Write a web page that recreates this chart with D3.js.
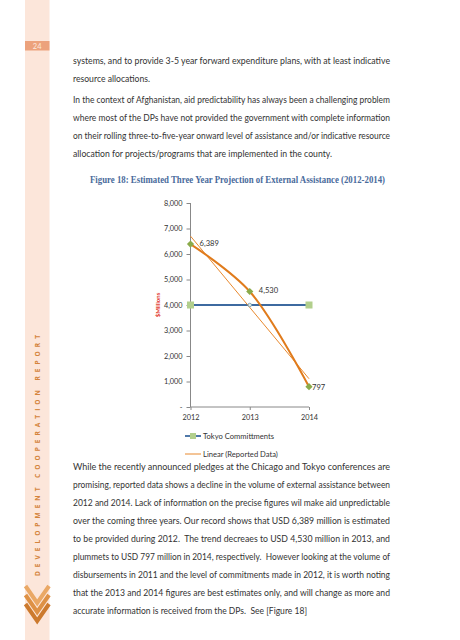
<!DOCTYPE html>
<html><head><meta charset="utf-8">
<script src="https://cdn.jsdelivr.net/npm/d3@7"></script>
<style>html,body{margin:0;padding:0;background:#fff;}svg{display:block;}</style>
</head><body>
<svg id="page" width="460" height="640"></svg>
<script>
// ---------- data ----------
const years = [2012, 2013, 2014];
const reportedData = [6389, 4530, 797];
const tokyoCommitments = [4000, 4000, 4000];
const trendYears = [2012, 2014];
const trendValues = [6701, 1109]; // Linear (Reported Data) endpoints
const yTicks = [0, 1000, 2000, 3000, 4000, 5000, 6000, 7000, 8000];
const yTickLabels = ["-", "1,000", "2,000", "3,000", "4,000", "5,000", "6,000", "7,000", "8,000"];
const legendLabels = ["Tokyo Committments", "Linear (Reported Data)"];
const titleText = "Figure 18: Estimated Three Year Projection of External Assistance (2012-2014)";
const yAxisTitle = "$Millions";
const pageNumber = "24";
const sideText = "DEVELOPMENT COOPERATION REPORT";
const para1 = [
  ["systems, and to provide 3-5 year forward expenditure plans, with at least indicative", true],
  ["resource allocations.", false, 77]
];
const para2 = [
  ["In the context of Afghanistan, aid predictability has always been a challenging problem", true],
  ["where most of the DPs have not provided the government with complete information", true],
  ["on their rolling three-to-five-year onward level of assistance and/or indicative resource", true],
  ["allocation for projects/programs that are implemented in the county.", false, 259]
];
const para3 = [
  ["While the recently announced pledges at the Chicago and Tokyo conferences are", true],
  ["promising, reported data shows a decline in the volume of external assistance between", true],
  ["2012 and 2014. Lack of information on the precise figures wil make aid unpredictable", true],
  ["over the coming three years. Our record shows that USD 6,389 million is estimated", true],
  ["to be provided during 2012.  The trend decreaes to USD 4,530 million in 2013, and", true],
  ["plummets to USD 797 million in 2014, respectively.  However looking at the volume of", true],
  ["disbursements in 2011 and the level of commitments made in 2012, it is worth noting", true],
  ["that the 2013 and 2014 figures are best estimates only, and will change as more and", true],
  ["accurate information is received from the DPs.  See [Figure 18]", false, 234]
];

// ---------- page decoration ----------
const svg = d3.select("#page");
svg.append("rect").attr("x", 25).attr("y", 0).attr("width", 24.5).attr("height", 640).attr("fill", "#fce6da");
svg.append("rect").attr("x", 25).attr("y", 41).attr("width", 24.5).attr("height", 9.5).attr("fill", "#eca27c");
svg.append("text").attr("x", 37.2).attr("y", 48.8).attr("text-anchor", "middle")
  .attr("font-family", "Lato, sans-serif").attr("font-size", 7.5).attr("fill", "#fde9de").text(pageNumber);

svg.append("text")
  .attr("transform", "translate(39.8,576) rotate(-90)")
  .attr("font-family", "'Open Sans', sans-serif").attr("font-weight", "bold").attr("font-size", 6.6)
  .attr("fill", "#d4843c").attr("textLength", 241).attr("lengthAdjust", "spacing").text(sideText);

const chevColors = ["#eaa865", "#de9145", "#cc7a2e"];
[586, 595, 604].forEach((t, i) => {
  svg.append("path").attr("d", `M25.5,${t} L37.2,${t + 17} L49,${t}`)
    .attr("fill", "none").attr("stroke", chevColors[i]).attr("stroke-width", 4);
});

// ---------- body text ----------
const bodyX = 73, bodyW = 317;
function para(lines, y0) {
  lines.forEach((l, i) => {
    svg.append("text").attr("x", bodyX).attr("y", y0 + i * 18)
      .attr("font-family", "Lato, sans-serif").attr("font-size", 10.2).attr("fill", "#333")
      .attr("textLength", l[1] ? bodyW : l[2]).attr("lengthAdjust", "spacingAndGlyphs")
      .attr("xml:space", "preserve").text(l[0]);
  });
}
para(para1, 63.5);
para(para2, 102.5);
para(para3, 469.5);

svg.append("text").attr("x", 90).attr("y", 183)
  .attr("font-family", "'Liberation Serif', serif").attr("font-weight", "bold").attr("font-size", 9.8)
  .attr("fill", "#4a6b9c").attr("textLength", 295).attr("lengthAdjust", "spacingAndGlyphs").text(titleText);

// ---------- chart ----------
const x = d3.scaleLinear().domain([2012, 2014]).range([190.5, 309]);
const y = d3.scaleLinear().domain([0, 8000]).range([407, 203]);
const axisColor = "#888";
const chartFont = "Lato, sans-serif";

const yAxis = svg.append("g").attr("transform", "translate(190.5,0)")
  .call(d3.axisLeft(y).tickValues(yTicks).tickSize(4).tickPadding(4).tickFormat((d, i) => yTickLabels[i]));
const xAxis = svg.append("g").attr("transform", `translate(0,${y(0)})`)
  .call(d3.axisBottom(x).tickValues(years).tickSize(3).tickPadding(5).tickFormat(d3.format("d")));
[yAxis, xAxis].forEach(g => {
  g.select(".domain").attr("stroke", axisColor).attr("stroke-width", 1);
  g.selectAll(".tick line").attr("stroke", axisColor);
  g.selectAll("text").attr("font-family", chartFont).attr("font-size", 7.3).attr("fill", "#333");
});
xAxis.select(".domain").attr("d", `M${x(2012)},0H${x(2014)}`);
yAxis.select(".domain").attr("d", `M0,${y(8000)}V${y(0)}`);

svg.append("text").attr("transform", `translate(159.5,${y(4000)}) rotate(-90)`).attr("text-anchor", "middle")
  .attr("font-family", chartFont).attr("font-weight", "bold").attr("font-size", 6).attr("fill", "#e23a2e").text(yAxisTitle);

// Tokyo line
const tokyoColor = "#3d6aa0";
svg.append("path").datum(years.map((d, i) => [x(d), y(tokyoCommitments[i])]))
  .attr("d", d3.line()).attr("fill", "none").attr("stroke", tokyoColor).attr("stroke-width", 1.8);

// trend line
svg.append("path").datum(trendYears.map((d, i) => [x(d), y(trendValues[i])]))
  .attr("d", d3.line()).attr("fill", "none").attr("stroke", "#e8892e").attr("stroke-width", 1);

// reported smooth line
svg.append("path").datum(years.map((d, i) => [x(d), y(reportedData[i])]))
  .attr("d", d3.line().curve(d3.curveCatmullRom.alpha(0.5))).attr("fill", "none").attr("stroke", "#e07b1c").attr("stroke-width", 2);

// Tokyo markers
[0, 2].forEach(i => {
  svg.append("rect").attr("x", x(years[i]) - 3.5).attr("y", y(tokyoCommitments[i]) - 3.5)
    .attr("width", 7).attr("height", 7).attr("fill", "#b2cf8c");
});
svg.append("circle").attr("cx", x(years[1])).attr("cy", y(tokyoCommitments[1])).attr("r", 1.8)
  .attr("fill", "#dfe9ea").attr("stroke", "#6f97a8").attr("stroke-width", 0.8);

// Reported markers
years.forEach((d, i) => {
  const cx = x(d), cy = y(reportedData[i]);
  svg.append("path").attr("d", `M${cx},${cy - 3.6}L${cx + 3.6},${cy}L${cx},${cy + 3.6}L${cx - 3.6},${cy}Z`)
    .attr("fill", "#8aaa4a");
});
// data labels
const labelOffsets = [[9, 2], [9, 2], [3, 3]];
years.forEach((d, i) => {
  svg.append("text").attr("x", x(d) + labelOffsets[i][0]).attr("y", y(reportedData[i]) + labelOffsets[i][1])
    .attr("font-family", chartFont).attr("font-size", 7.6).attr("fill", "#333")
    .text(d3.format(",")(reportedData[i]));
});

// legend
const lg = svg.append("g").attr("transform", "translate(185,436)");
lg.append("line").attr("x1", 0).attr("x2", 16).attr("y1", 0).attr("y2", 0).attr("stroke", tokyoColor).attr("stroke-width", 1.8);
lg.append("rect").attr("x", 5).attr("y", -3).attr("width", 6).attr("height", 6).attr("fill", "#b2cf8c");
lg.append("line").attr("x1", 0).attr("x2", 16).attr("y1", 18).attr("y2", 18).attr("stroke", "#e8892e").attr("stroke-width", 1);
legendLabels.forEach((t, i) => {
  lg.append("text").attr("x", 18).attr("y", i * 18 + 2.7).attr("font-family", chartFont)
    .attr("font-size", 7.6).attr("fill", "#333").text(t);
});
</script>
</body></html>
